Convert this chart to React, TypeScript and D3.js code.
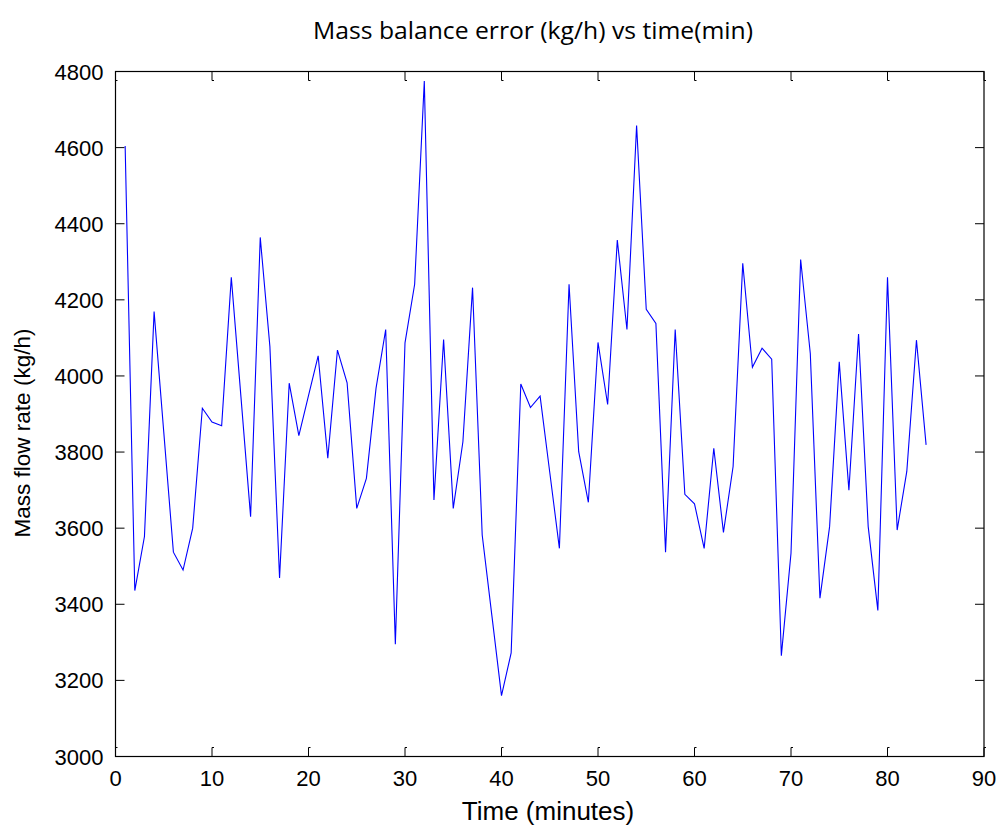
import { useEffect, useRef } from "react";
import * as d3 from "d3";

// time in minutes
const minutes = [
  1, 2, 3, 4, 5, 6, 7, 8, 9, 10, 11, 12, 13, 14, 15, 16, 17, 18, 19, 20, 21,
  22, 23, 24, 25, 26, 27, 28, 29, 30, 31, 32, 33, 34, 35, 36, 37, 38, 39, 40,
  41, 42, 43, 44, 45, 46, 47, 48, 49, 50, 51, 52, 53, 54, 55, 56, 57, 58, 59,
  60, 61, 62, 63, 64, 65, 66, 67, 68, 69, 70, 71, 72, 73, 74, 75, 76, 77, 78,
  79, 80, 81, 82, 83, 84,
];

// mass flow rate (kg/h)
const massFlow = [
  4604, 3436, 3578, 4169, 3853, 3537, 3490, 3600, 3915, 3879, 3869, 4259, 3945,
  3630, 4364, 4077, 3469, 3981, 3843, 3948, 4053, 3784, 4068, 3982, 3652, 3731,
  3968, 4122, 3295, 4087, 4241, 4775, 3674, 4096, 3652, 3827, 4232, 3582, 3371,
  3160, 3272, 3979, 3917, 3947, 3747, 3547, 4241, 3801, 3668, 4088, 3925, 4357,
  4122, 4658, 4175, 4138, 3537, 4122, 3689, 3664, 3547, 3810, 3589, 3762, 4296,
  4023, 4073, 4044, 3265, 3534, 4306, 4059, 3416, 3604, 4037, 3700, 4110, 3604,
  3384, 4259, 3595, 3749, 4094, 3819,
];

const xTicks = [0, 10, 20, 30, 40, 50, 60, 70, 80, 90];
const yTicks = [3000, 3200, 3400, 3600, 3800, 4000, 4200, 4400, 4600, 4800];

function App() {
  const svgRef = useRef<SVGSVGElement>(null);
  const width = 998, height = 826;
  const margin = { top: 71.5, right: 14, bottom: 69.5, left: 115.5 };

  useEffect(() => {
    const svg = d3.select(svgRef.current);
    svg.selectAll("*").remove();

    const x = d3.scaleLinear().domain([0, 90]).range([margin.left, width - margin.right]);
    const y = d3.scaleLinear().domain([3000, 4800]).range([height - margin.bottom, margin.top]);
    const tickLen = 9;
    const font = "'Liberation Sans', Arial, sans-serif";

    svg.append("rect").attr("width", width).attr("height", height).attr("fill", "#fff");

    // plot box
    svg.append("rect")
      .attr("x", x(0)).attr("y", y(4800))
      .attr("width", x(90) - x(0)).attr("height", y(3000) - y(4800))
      .attr("fill", "none").attr("stroke", "#000").attr("stroke-width", 1.2);

    const g = svg.append("g");

    // inward ticks on all four sides
    g.selectAll(".xtb").data(xTicks).enter().append("path")
      .attr("d", d => `M${x(d)},${y(3000)}V${y(3000) - tickLen}h2`)
      .attr("fill", "none").attr("stroke", "#000");
    g.selectAll(".xtt").data(xTicks).enter().append("path")
      .attr("d", d => `M${x(d)},${y(4800)}V${y(4800) + tickLen}h2`)
      .attr("fill", "none").attr("stroke", "#000");
    g.selectAll(".ytl").data(yTicks).enter().append("line")
      .attr("x1", x(0)).attr("x2", x(0) + tickLen)
      .attr("y1", d => y(d)).attr("y2", d => y(d))
      .attr("stroke", "#000");
    g.selectAll(".ytr").data(yTicks).enter().append("line")
      .attr("x1", x(90)).attr("x2", x(90) - tickLen)
      .attr("y1", d => y(d)).attr("y2", d => y(d))
      .attr("stroke", "#000");

    // tick labels
    g.selectAll(".xl").data(xTicks).enter().append("text")
      .attr("x", d => x(d)).attr("y", y(3000) + 29)
      .attr("text-anchor", "middle")
      .attr("font-family", font).attr("font-size", 22)
      .text(d => d);
    g.selectAll(".yl").data(yTicks).enter().append("text")
      .attr("x", x(0) - 12).attr("y", d => y(d) + 8)
      .attr("text-anchor", "end")
      .attr("font-family", font).attr("font-size", 22)
      .text(d => d);

    // data line
    const line = d3.line<number>()
      .x((_, i) => x(minutes[i]))
      .y(d => y(d));
    svg.append("path")
      .datum(massFlow)
      .attr("d", line)
      .attr("fill", "none")
      .attr("stroke", "#0000ff")
      .attr("stroke-width", 1.1)
      .attr("stroke-linejoin", "miter");

    // labels
    svg.append("text")
      .attr("x", 533).attr("y", 39)
      .attr("text-anchor", "middle")
      .attr("font-family", "'Open Sans', 'Noto Sans', sans-serif")
      .attr("font-size", 24)
      .attr("textLength", 440)
      .attr("lengthAdjust", "spacingAndGlyphs")
      .text("Mass balance error (kg/h) vs time(min)");
    svg.append("text")
      .attr("x", 548).attr("y", 820)
      .attr("text-anchor", "middle")
      .attr("font-family", font).attr("font-size", 26)
      .text("Time (minutes)");
    svg.append("text")
      .attr("transform", `translate(30,433) rotate(-90)`)
      .attr("text-anchor", "middle")
      .attr("font-family", font).attr("font-size", 22.5)
      .text("Mass flow rate (kg/h)");
  }, []);

  return (
    <div style={{ position: "absolute", left: 0, top: 0 }}>
      <svg ref={svgRef} width={width} height={height}></svg>
    </div>
  );
}

export default App;
